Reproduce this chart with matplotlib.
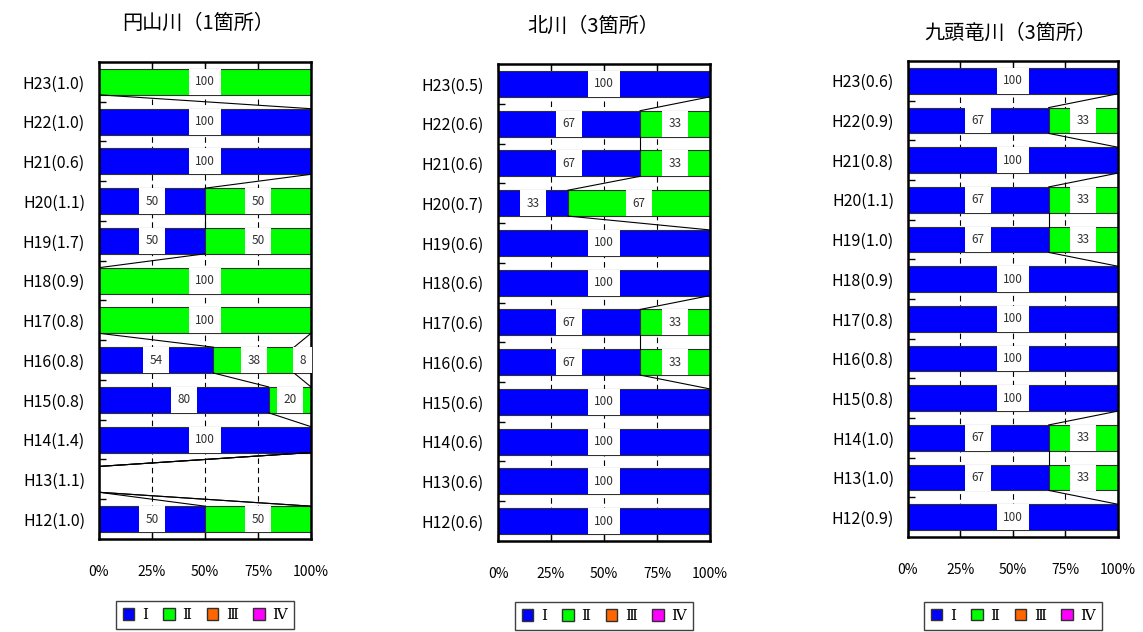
import numpy as np
import matplotlib
matplotlib.use('Agg')
import matplotlib.pyplot as plt
from matplotlib.patches import Patch

plt.rcParams['font.family'] = ['Noto Sans CJK JP', 'DejaVu Sans']

# Data (top row first)
titles = ['円山川（1箇所）', '北川（3箇所）', '九頭竜川（3箇所）']
classes = ['Ⅰ', 'Ⅱ', 'Ⅲ', 'Ⅳ']
colors = ['#0000FF', '#00FF00', '#FF6600', '#FF00FF']

cats1 = ['H23(1.0)', 'H22(1.0)', 'H21(0.6)', 'H20(1.1)', 'H19(1.7)', 'H18(0.9)',
         'H17(0.8)', 'H16(0.8)', 'H15(0.8)', 'H14(1.4)', 'H13(1.1)', 'H12(1.0)']
c1_I = [0, 100, 100, 50, 50, 0, 0, 54, 80, 100, 0, 50]
c1_II = [100, 0, 0, 50, 50, 100, 100, 38, 20, 0, 0, 50]
c1_III = [0, 0, 0, 0, 0, 0, 0, 8, 0, 0, 0, 0]
c1_IV = [0, 0, 0, 0, 0, 0, 0, 0, 0, 0, 0, 0]

cats2 = ['H23(0.5)', 'H22(0.6)', 'H21(0.6)', 'H20(0.7)', 'H19(0.6)', 'H18(0.6)',
         'H17(0.6)', 'H16(0.6)', 'H15(0.6)', 'H14(0.6)', 'H13(0.6)', 'H12(0.6)']
c2_I = [100, 67, 67, 33, 100, 100, 67, 67, 100, 100, 100, 100]
c2_II = [0, 33, 33, 67, 0, 0, 33, 33, 0, 0, 0, 0]
c2_III = [0, 0, 0, 0, 0, 0, 0, 0, 0, 0, 0, 0]
c2_IV = [0, 0, 0, 0, 0, 0, 0, 0, 0, 0, 0, 0]

cats3 = ['H23(0.6)', 'H22(0.9)', 'H21(0.8)', 'H20(1.1)', 'H19(1.0)', 'H18(0.9)',
         'H17(0.8)', 'H16(0.8)', 'H15(0.8)', 'H14(1.0)', 'H13(1.0)', 'H12(0.9)']
c3_I = [100, 67, 100, 67, 67, 100, 100, 100, 100, 67, 67, 100]
c3_II = [0, 33, 0, 33, 33, 0, 0, 0, 0, 33, 33, 0]
c3_III = [0, 0, 0, 0, 0, 0, 0, 0, 0, 0, 0, 0]
c3_IV = [0, 0, 0, 0, 0, 0, 0, 0, 0, 0, 0, 0]

panels = [
    (cats1, [c1_I, c1_II, c1_III, c1_IV]),
    (cats2, [c2_I, c2_II, c2_III, c2_IV]),
    (cats3, [c3_I, c3_II, c3_III, c3_IV]),
]

# layout (figure fractions)
ax_pos = [[0.0866, 0.1472, 0.1855, 0.7547],
          [0.4357, 0.1440, 0.1855, 0.7547],
          [0.7944, 0.1503, 0.1837, 0.7532]]
title_pos = [(0.173, 0.963), (0.519, 0.958), (0.884, 0.947)]
legend_y = [-0.16, -0.158, -0.166]

fig = plt.figure(figsize=(11.43, 6.32), dpi=100)
h = 0.65

for p, (cats, series) in enumerate(panels):
    ax = fig.add_axes(ax_pos[p])
    vals = np.array(series, dtype=float)
    n = len(cats)
    y = np.arange(n)
    left = np.zeros(n)
    for k in range(4):
        ax.barh(y, vals[k], left=left, height=h, color=colors[k],
                edgecolor='#303030', linewidth=0.8, zorder=2)
        for i in range(n):
            if vals[k][i] > 0:
                ax.text(left[i] + vals[k][i] / 2, y[i], str(int(vals[k][i])),
                        ha='center', va='center', fontsize=8.5, color='#303030',
                        zorder=4,
                        bbox=dict(boxstyle='square,pad=0.55', fc='white', ec='none'))
        left = left + vals[k]

    # series lines between neighbouring bars
    cum = np.cumsum(vals, axis=0)
    for i in range(n - 1):
        for k in range(3):
            ax.plot([cum[k][i], cum[k][i + 1]], [y[i] + h / 2, y[i + 1] - h / 2],
                    color='black', lw=0.8, zorder=3)

    ax.set_xlim(0, 100)
    ax.set_ylim(n - 0.5, -0.5)
    ax.set_yticks(y)
    ax.set_yticklabels(cats, fontsize=11.5)
    ax.set_yticks(np.arange(n - 1) + 0.5, minor=True)
    ax.tick_params(axis='y', which='major', length=0, pad=10)
    ax.tick_params(axis='y', which='minor', length=5, direction='in', width=1)
    ax.set_xticks([0, 25, 50, 75, 100])
    ax.set_xticklabels(['0%', '25%', '50%', '75%', '100%'], fontsize=10)
    ax.tick_params(axis='x', direction='in', top=True, length=5, width=1, pad=19)
    for xv in [25, 50, 75]:
        ax.axvline(xv, color='black', lw=0.8, dashes=(5, 3.5), zorder=1)
    for s in ax.spines.values():
        s.set_linewidth(1.8)

    handles = [Patch(facecolor=colors[k], edgecolor='#303030', label=classes[k])
               for k in range(4)]
    ax.legend(handles=handles, loc='center', bbox_to_anchor=(0.5, legend_y[p]),
              ncol=4, fancybox=False, edgecolor='#404040', framealpha=1,
              handlelength=0.75, handleheight=0.75, handletextpad=0.5,
              columnspacing=1.0, borderpad=0.45,
              prop={'family': ['DejaVu Serif', 'Noto Sans CJK JP'], 'size': 11})

    fig.text(title_pos[p][0], title_pos[p][1], titles[p], ha='center', va='center',
             fontsize=14.5)

fig.savefig('out.png', dpi=100)
